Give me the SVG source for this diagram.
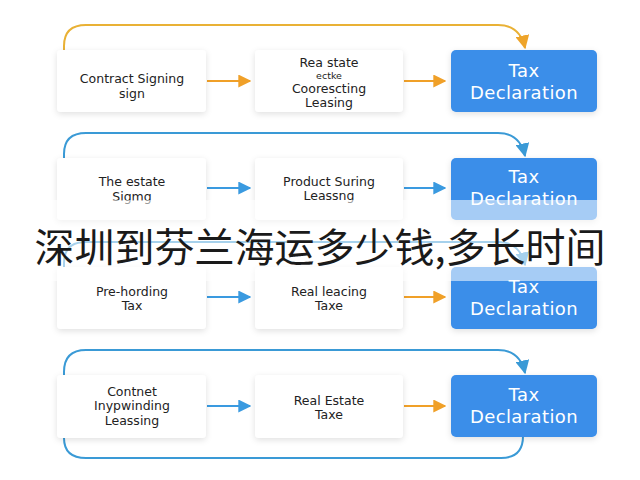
<svg xmlns="http://www.w3.org/2000/svg" width="640" height="480" viewBox="0 0 640 480">
<style>
.box{fill:#ffffff;}
.tax{fill:#3b8ee9;}
.t{font-family:"DejaVu Sans","Liberation Sans",sans-serif;font-size:12.5px;fill:#222;text-anchor:middle;dominant-baseline:central;}
.ts{font-size:9.5px;}
.w{font-family:"DejaVu Sans","Liberation Sans",sans-serif;font-size:18px;letter-spacing:0.4px;fill:#ffffff;text-anchor:middle;dominant-baseline:central;}
.lo{fill:none;stroke:#e9b135;stroke-width:2;}
.lb{fill:none;stroke:#3a9ad6;stroke-width:2;}
.ao{stroke:#f0a028;stroke-width:2.2;fill:none;}
.ab{stroke:#3a9ae0;stroke-width:2.2;fill:none;}
.cn{font-family:"Noto Sans CJK SC","Noto Sans CJK JP",sans-serif;font-size:40px;fill:#1a1a1a;}
</style>
<defs>
<filter id="sh" x="-20%" y="-30%" width="140%" height="160%">
<feDropShadow dx="0" dy="2" stdDeviation="3" flood-color="#000" flood-opacity="0.12"/>
</filter>
<marker id="mo2" viewBox="0 0 10 10" refX="9" refY="5" markerWidth="13" markerHeight="13" orient="auto" markerUnits="userSpaceOnUse">
<path d="M0,0 L10,5 L0,10 z" fill="#f0a028"/>
</marker>
<marker id="mb2" viewBox="0 0 10 10" refX="9" refY="5" markerWidth="13" markerHeight="13" orient="auto" markerUnits="userSpaceOnUse">
<path d="M0,0 L10,5 L0,10 z" fill="#3a9ae0"/>
</marker>
<marker id="mg" viewBox="0 0 10 10" refX="9" refY="5" markerWidth="14" markerHeight="14" orient="auto" markerUnits="userSpaceOnUse">
<path d="M0,0 L10,5 L0,10 z" fill="#eea42a"/>
</marker>
<marker id="ml" viewBox="0 0 10 10" refX="9" refY="5" markerWidth="14" markerHeight="14" orient="auto" markerUnits="userSpaceOnUse">
<path d="M0,0 L10,5 L0,10 z" fill="#3a9ad6"/>
</marker>
</defs>
<rect width="640" height="480" fill="#ffffff"/>

<g id="connectors">
<path class="lo" d="M64,52 V46 Q64,25 86,25 H498 Q520,25 525,48" marker-end="url(#mg)"/>
<path class="lb" d="M64,160 V154 Q64,133 86,133 H498 Q520,133 525,156" marker-end="url(#ml)"/>
<path class="lb" d="M64,269 V263 Q64,242 86,242 H498 Q520,242 525,265" marker-end="url(#ml)"/>
<path class="lb" d="M64,377 V372 Q64,350 86,350 H498 Q520,350 525,373" marker-end="url(#ml)"/>
<path class="lb" d="M64,436 V438 Q64,458 86,458 H501 Q523,458 523,436"/>
<line class="ao" x1="207" y1="81" x2="250" y2="81" marker-end="url(#mo2)"/>
<line class="ao" x1="404" y1="81" x2="445" y2="81" marker-end="url(#mo2)"/>
<line class="ab" x1="207" y1="188" x2="250" y2="188" marker-end="url(#mb2)"/>
<line class="ab" x1="404" y1="188" x2="445" y2="188" marker-end="url(#mb2)"/>
<line class="ab" x1="207" y1="297" x2="250" y2="297" marker-end="url(#mb2)"/>
<line class="ao" x1="404" y1="297" x2="445" y2="297" marker-end="url(#mo2)"/>
<line class="ab" x1="207" y1="406" x2="250" y2="406" marker-end="url(#mb2)"/>
<line class="ao" x1="404" y1="406" x2="445" y2="406" marker-end="url(#mo2)"/>
</g>

<g id="r1a"><rect class="box" x="57" y="50" width="149" height="62" rx="4" filter="url(#sh)"/>
<text class="t" x="132" y="78">Contract Signing</text><text class="t" x="132" y="93">sign</text></g>
<g id="r1b"><rect class="box" x="255" y="50" width="148" height="62" rx="4" filter="url(#sh)"/>
<text class="t" x="329" y="62">Rea state</text><text class="t ts" x="329" y="75">ectke</text><text class="t" x="329" y="88">Coorescting</text><text class="t" x="329" y="102">Leasing</text></g>
<g id="r1c"><rect class="tax" x="451" y="50" width="146" height="62" rx="5" filter="url(#sh)"/>
<text class="w" x="524" y="70">Tax</text><text class="w" x="524" y="92">Declaration</text></g>

<g id="r2a"><rect class="box" x="57" y="158" width="149" height="62" rx="4" filter="url(#sh)"/>
<text class="t" x="132" y="181">The estate</text><text class="t" x="132" y="196">Sigmg</text></g>
<g id="r2b"><rect class="box" x="255" y="158" width="148" height="62" rx="4" filter="url(#sh)"/>
<text class="t" x="329" y="181">Product Suring</text><text class="t" x="329" y="195">Leassng</text></g>
<g id="r2c"><rect class="tax" x="451" y="158" width="146" height="62" rx="5" filter="url(#sh)"/>
<text class="w" x="524" y="176">Tax</text><text class="w" x="524" y="198">Declaration</text></g>

<g id="r3a"><rect class="box" x="57" y="267" width="149" height="62" rx="4" filter="url(#sh)"/>
<text class="t" x="132" y="291">Pre-hording</text><text class="t" x="132" y="305">Tax</text></g>
<g id="r3b"><rect class="box" x="255" y="267" width="148" height="62" rx="4" filter="url(#sh)"/>
<text class="t" x="329" y="291">Real leacing</text><text class="t" x="329" y="305">Taxe</text></g>
<g id="r3c"><rect class="tax" x="451" y="267" width="146" height="62" rx="5" filter="url(#sh)"/>
<text class="w" x="524" y="286">Tax</text><text class="w" x="524" y="308">Declaration</text></g>

<g id="r4a"><rect class="box" x="57" y="375" width="149" height="63" rx="4" filter="url(#sh)"/>
<text class="t" x="132" y="391">Contnet</text><text class="t" x="132" y="405">Inypwinding</text><text class="t" x="132" y="420">Leassing</text></g>
<g id="r4b"><rect class="box" x="255" y="375" width="148" height="63" rx="4" filter="url(#sh)"/>
<text class="t" x="329" y="400">Real Estate</text><text class="t" x="329" y="414">Taxe</text></g>
<g id="r4c"><rect class="tax" x="451" y="375" width="146" height="62" rx="5" filter="url(#sh)"/>
<text class="w" x="524" y="394">Tax</text><text class="w" x="524" y="416">Declaration</text></g>

<rect x="0" y="200" width="640" height="81" fill="#ffffff" fill-opacity="0.55"/>
<text class="cn" x="320" y="262" text-anchor="middle">深圳到芬兰海运多少钱,多长时间</text>
</svg>
